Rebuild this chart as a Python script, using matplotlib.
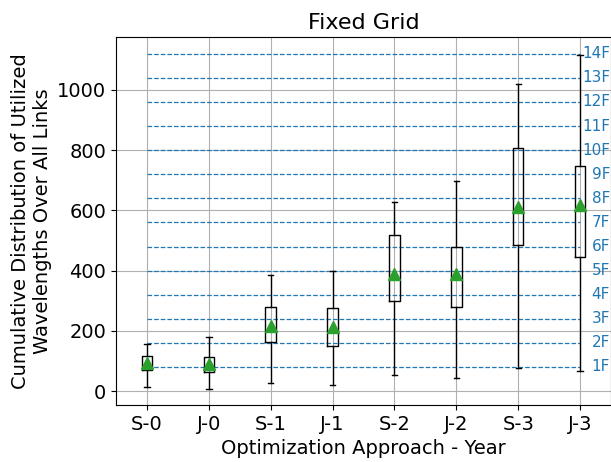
import matplotlib.pyplot as plt

# Box statistics
labels = ['S-0', 'J-0', 'S-1', 'J-1', 'S-2', 'J-2', 'S-3', 'J-3']
whisker_low = [13, 7, 28, 21, 53, 42, 77, 67]
q1 = [70, 63, 162, 150, 299, 278, 484, 444]
q3 = [116, 114, 278, 275, 517, 477, 808, 747]
whisker_high = [157, 179, 384, 399, 627, 699, 1020, 1117]
means = [92, 89, 215, 214, 390, 390, 612, 617]

# Frequency slot levels (1F .. 14F)
slot_size = 80
slot_count = 14

stats = []
for i, lab in enumerate(labels):
    stats.append({
        'label': lab,
        'whislo': whisker_low[i],
        'q1': q1[i],
        'med': (q1[i] + q3[i]) / 2,
        'q3': q3[i],
        'whishi': whisker_high[i],
        'mean': means[i],
        'fliers': [],
    })

fig = plt.figure(figsize=(6.11, 4.62), dpi=100)
ax = fig.add_axes([0.19, 0.123, 0.81, 0.797])

positions = list(range(1, len(labels) + 1))
ax.bxp(stats, positions=positions, widths=0.17, showmeans=True,
       medianprops={'linewidth': 0},
       meanprops={'marker': '^', 'markerfacecolor': 'tab:green',
                  'markeredgecolor': 'tab:green', 'markersize': 8},
       boxprops={'color': 'black'}, whiskerprops={'color': 'black'},
       capprops={'color': 'black'}, zorder=3)

for k in range(1, slot_count + 1):
    ax.hlines(k * slot_size, positions[0], positions[-1], colors='tab:blue',
              linestyles='--', linewidth=0.9, zorder=2)
    ax.text(8.485, k * slot_size, f'{k}F', color='tab:blue',
            fontsize=11, ha='right', va='center')

ax.set_xlim(0.5, 8.5)
ax.set_ylim(-47, 1176)
ax.set_xticks(positions)
ax.set_xticklabels(labels)
ax.set_yticks([0, 200, 400, 600, 800, 1000])
ax.tick_params(labelsize=14)
ax.grid(True)
ax.set_axisbelow(True)
ax.set_title('Fixed Grid', fontsize=16)
ax.set_xlabel('Optimization Approach - Year', fontsize=14)
ax.set_ylabel('Cumulative Distribution of Utilized\nWavelengths Over All Links', fontsize=14)

plt.savefig('out.png', dpi=100)
